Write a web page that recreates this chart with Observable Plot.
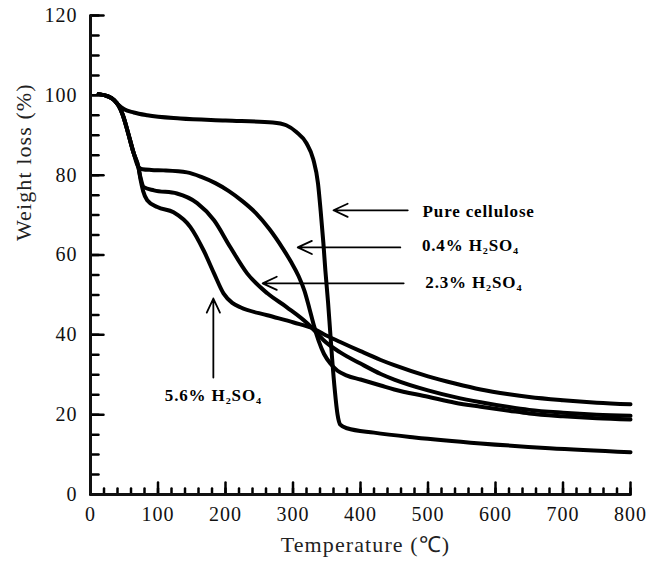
<!DOCTYPE html>
<html>
<head>
<meta charset="utf-8">
<script src="https://cdn.jsdelivr.net/npm/d3@7"></script>
<script src="https://cdn.jsdelivr.net/npm/@observablehq/plot@0.6"></script>
<style>
  body { margin: 0; background: #fff; }
  #chart svg text { letter-spacing: 0.05em; }
</style>
</head>
<body>
<div id="chart"></div>
<script>
// TGA curves: temperature (°C) and remaining weight (%)
const pureT = [12, 25, 35, 42, 50, 64, 84, 133, 200, 270, 290, 305, 320, 330, 337, 341, 345, 348, 352, 355, 358, 362, 366, 370, 380, 420, 480, 578, 680, 800];
const pureW = [100.3, 99.8, 98.8, 97.5, 96.5, 95.7, 95.0, 94.2, 93.7, 93.2, 92.5, 90.8, 88.0, 84.0, 78.0, 71.0, 63.0, 56.0, 48.0, 41.0, 34.0, 26.0, 20.0, 17.5, 16.6, 15.5, 14.3, 12.8, 11.6, 10.6];

const acid04T = [12, 25, 35, 42, 48, 55, 64, 71, 77, 90, 108, 143, 165, 185, 205, 225, 245, 265, 285, 297, 308, 317, 324, 331, 338, 346, 356, 366, 380, 400, 430, 450, 500, 540, 578, 620, 650, 700, 750, 800];
const acid04W = [100.3, 99.8, 98.8, 97.3, 95.0, 91.0, 85.5, 82.0, 81.5, 81.3, 81.2, 80.7, 79.5, 78.0, 76.0, 73.5, 70.5, 66.5, 61.6, 58.3, 54.8, 51.0, 46.8, 42.3, 38.5, 35.2, 32.7, 31.0, 29.8, 28.8, 27.3, 26.3, 24.5, 23.0, 22.0, 21.0, 20.3, 19.6, 19.1, 18.8];

const acid23T = [12, 25, 35, 42, 48, 55, 64, 71, 74, 79, 94, 128, 158, 183, 207, 232, 262, 291, 321, 335, 345, 370, 400, 430, 450, 500, 540, 578, 620, 650, 700, 750, 800];
const acid23W = [100.3, 99.8, 98.8, 97.3, 95.0, 91.0, 85.5, 82.0, 79.5, 77.0, 76.2, 75.4, 73.0, 68.7, 62.0, 55.4, 50.4, 46.9, 42.9, 40.5, 38.7, 35.6, 32.8, 30.2, 28.8, 26.1, 24.4, 23.1, 21.9, 21.2, 20.5, 20.0, 19.7];

const acid56T = [12, 25, 35, 42, 48, 55, 64, 71, 74, 78, 84, 99, 123, 148, 168, 183, 197, 210, 222, 262, 301, 331, 345, 370, 400, 430, 450, 500, 540, 578, 620, 650, 700, 750, 800];
const acid56W = [100.3, 99.8, 98.8, 97.3, 95.0, 91.0, 85.5, 82.0, 79.0, 76.0, 73.7, 72.0, 70.7, 67.0, 61.0, 55.4, 50.4, 48.0, 46.9, 44.9, 43.1, 41.5, 40.2, 38.2, 35.9, 33.7, 32.4, 29.6, 27.8, 26.3, 25.1, 24.4, 23.6, 23.0, 22.6];

const seriesNames = ["Pure cellulose", "0.4% H₂SO₄", "2.3% H₂SO₄", "5.6% H₂SO₄"];

// axis ticks
const xMajor = [0, 100, 200, 300, 400, 500, 600, 700, 800];
const xMinor = d3.range(0, 801, 20);
const yMajor = [0, 20, 40, 60, 80, 100, 120];
const yMinor = d3.range(0, 121, 5);

// annotation arrows (data units) and their labels
const arrowTail = [[470, 71.2], [459, 61.9], [464, 52.9], [182, 29.3]];
const arrowTip  = [[360, 71.2], [307, 61.9], [255, 52.9], [182, 49.1]];
const labelAt   = [[492, 70.9], [491, 62.4], [496, 53.0], [182, 24.8]];
const labelAnchor = ["start", "start", "start", "middle"];

const pairs = [[pureT, pureW], [acid04T, acid04W], [acid23T, acid23W], [acid56T, acid56W]];
const rows = pairs.flatMap(([T, W], s) => T.map((t, i) => ({series: seriesNames[s], t, w: W[i]})));

const arrows = arrowTail.map((a, i) => ({x1: a[0], y1: a[1], x2: arrowTip[i][0], y2: arrowTip[i][1]}));
const labels = labelAt.map((p, i) => ({x: p[0], y: p[1], text: seriesNames[i], anchor: labelAnchor[i]}));

// straight tick stroke drawn from the anchor point along the vector direction
const tickShape = {draw(context, l) { context.moveTo(0, 0); context.lineTo(0, -l); }};
const inwardTicks = (values, axis, len) => Plot.vector(values, {
  x: axis === "x" ? d => d : 0,
  y: axis === "y" ? d => d : 0,
  length: len,
  rotate: axis === "y" ? 90 : 0,
  anchor: "start",
  shape: tickShape,
  stroke: "#000",
  strokeWidth: 2.5
});

const chart = Plot.plot({
  width: 652,
  height: 571,
  marginLeft: 90,
  marginRight: 22,
  marginTop: 15,
  marginBottom: 77,
  style: {fontFamily: "'Liberation Serif', 'Times New Roman', serif", fontSize: "20px", color: "#111", background: "#fff"},
  x: {domain: [0, 800]},
  y: {domain: [0, 120]},
  length: {type: "identity"},
  marks: [
    // tick labels
    Plot.axisY(yMajor, {tickSize: 0, tickPadding: 13, label: null, fontSize: 20}),
    Plot.axisX(xMajor, {tickSize: 0, tickPadding: 12, label: null, fontSize: 20}),
    // inward tick marks
    inwardTicks(yMajor, "y", 13),
    inwardTicks(yMinor, "y", 8),
    inwardTicks(xMajor, "x", 12),
    inwardTicks(xMinor, "x", 6),
    // axis lines
    Plot.ruleX([0], {strokeWidth: 3}),
    Plot.ruleY([0], {strokeWidth: 3}),
    // curves
    Plot.line(rows, {x: "t", y: "w", z: "series", stroke: "#000", strokeWidth: 4, curve: "monotone-x"}),
    // annotations
    Plot.arrow(arrows, {x1: "x1", y1: "y1", x2: "x2", y2: "y2", stroke: "#000", strokeWidth: 1.8, headLength: 13, headAngle: 50}),
    Plot.text(labels.filter(d => d.anchor === "start"), {x: "x", y: "y", text: "text", textAnchor: "start", fontWeight: "bold", fontSize: 17, fill: "#000"}),
    Plot.text(labels.filter(d => d.anchor === "middle"), {x: "x", y: "y", text: "text", textAnchor: "middle", fontWeight: "bold", fontSize: 17, fill: "#000"}),
    // axis titles
    Plot.text(["Weight loss (%)"], {text: d => d, frameAnchor: "left", dx: -67, dy: -14, rotate: -90, fontSize: 22, fill: "#222"}),
    Plot.text(["Temperature (℃)"], {text: d => d, frameAnchor: "bottom", dx: 5, dy: 57, fontSize: 22, fill: "#222"})
  ]
});

document.getElementById("chart").appendChild(chart);
</script>
</body>
</html>
